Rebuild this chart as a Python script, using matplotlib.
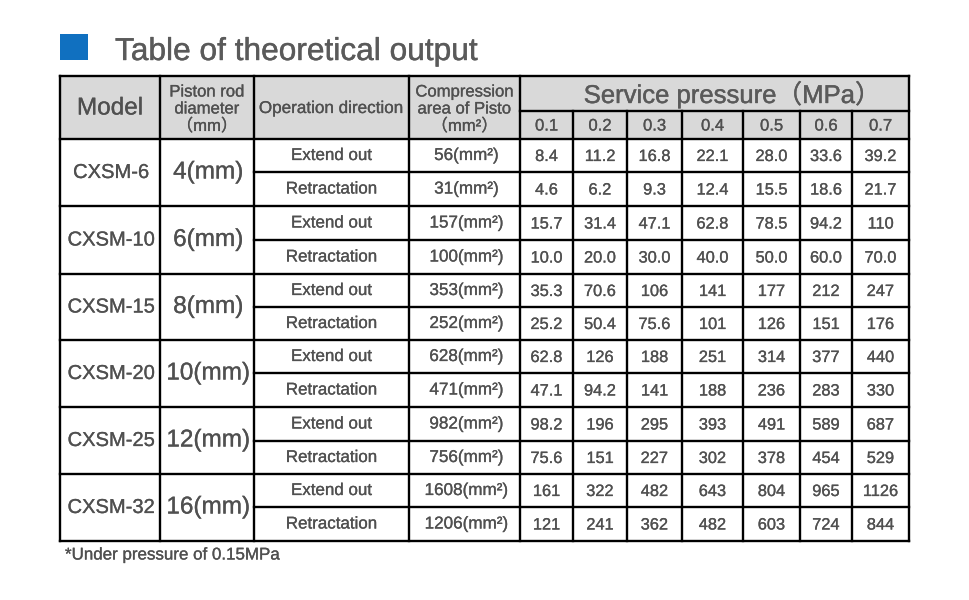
import matplotlib.pyplot as plt
import matplotlib.patheffects as pe
from matplotlib.patches import Rectangle

# table content
models = ['CXSM-6', 'CXSM-10', 'CXSM-15', 'CXSM-20', 'CXSM-25', 'CXSM-32']
rod_diameters = [4, 6, 8, 10, 12, 16]
directions = ['Extend out', 'Retractation']
areas = [[56, 31], [157, 100], [353, 252], [628, 471], [982, 756], [1608, 1206]]
pressures = ['0.1', '0.2', '0.3', '0.4', '0.5', '0.6', '0.7']
outputs = [
    ['8.4', '11.2', '16.8', '22.1', '28.0', '33.6', '39.2'],
    ['4.6', '6.2', '9.3', '12.4', '15.5', '18.6', '21.7'],
    ['15.7', '31.4', '47.1', '62.8', '78.5', '94.2', '110'],
    ['10.0', '20.0', '30.0', '40.0', '50.0', '60.0', '70.0'],
    ['35.3', '70.6', '106', '141', '177', '212', '247'],
    ['25.2', '50.4', '75.6', '101', '126', '151', '176'],
    ['62.8', '126', '188', '251', '314', '377', '440'],
    ['47.1', '94.2', '141', '188', '236', '283', '330'],
    ['98.2', '196', '295', '393', '491', '589', '687'],
    ['75.6', '151', '227', '302', '378', '454', '529'],
    ['161', '322', '482', '643', '804', '965', '1126'],
    ['121', '241', '362', '482', '603', '724', '844'],
]
title = 'Table of theoretical output'
footnote = '*Under pressure of 0.15MPa'

# layout (pixel coords, y down)
col_x = [60, 160, 254, 409, 520]
p_x = [520, 573, 627, 682, 743, 800, 852, 909]
y_top, y_mid, y_head = 76, 111, 139
row_y = [139, 172, 206, 240, 274, 307, 340, 373, 407, 441, 474, 507, 541]

fam = ['Liberation Sans', 'Noto Sans CJK SC']
txt_col = '#505050'
lw = 1.7


def put(x, y, s, size, color=txt_col, stroke=0.2, **kw):
    kw.setdefault('ha', 'center')
    kw.setdefault('va', 'center')
    return ax.text(x, y, s, fontsize=size, color=color, family=fam,
                   path_effects=[pe.withStroke(linewidth=stroke, foreground=color)], **kw)


fig = plt.figure(figsize=(9.7, 6), dpi=100)
ax = fig.add_axes([0, 0, 1, 1])
ax.set_xlim(0, 970)
ax.set_ylim(600, 0)
ax.axis('off')

# title
ax.add_patch(Rectangle((60, 34), 28, 26, color='#1070c0', lw=0))
put(115, 60, title, 22.8, color='#5a5a5a', stroke=0.3, ha='left', va='baseline')

# header background
ax.add_patch(Rectangle((col_x[0], y_top), p_x[-1] - col_x[0], y_head - y_top,
                       color='#d9d9d9', lw=0))

# grid lines
left, right, bottom = col_x[0], p_x[-1], row_y[-1]
for y in [y_top, y_head, bottom]:
    ax.plot([left, right], [y, y], color='black', lw=lw, solid_capstyle='projecting')
ax.plot([p_x[0], right], [y_mid, y_mid], color='black', lw=lw)
for i, y in enumerate(row_y[1:-1]):
    if i % 2 == 1:
        ax.plot([left, right], [y, y], color='black', lw=lw)
    else:
        ax.plot([col_x[2], right], [y, y], color='black', lw=lw)
for x in col_x + [right]:
    ax.plot([x, x], [y_top, bottom], color='black', lw=lw, solid_capstyle='projecting')
for x in p_x[1:-1]:
    ax.plot([x, x], [y_mid, bottom], color='black', lw=lw)

# header texts
hc = y_top + (y_head - y_top) / 2
put((col_x[0] + col_x[1]) / 2, hc + 1, 'Model', 17.5)
for dy, s in zip([-17, 0, 17], ['Piston rod', 'diameter', '（mm）']):
    put((col_x[1] + col_x[2]) / 2, 109 + dy, s, 12)
put((col_x[2] + col_x[3]) / 2, hc + 1, 'Operation direction', 12.3)
for dy, s in zip([-17, 0, 17], ['Compression', 'area of Pisto', '（mm²）']):
    put((col_x[3] + col_x[4]) / 2, 109 + dy, s, 12)
put((p_x[0] + p_x[-1]) / 2 + 18, (y_top + y_mid) / 2 + 1, 'Service pressure（MPa）',
    18.5, color='#5a5a5a', stroke=0.3)
for i, p in enumerate(pressures):
    put((p_x[i] + p_x[i + 1]) / 2, (y_mid + y_head) / 2 + 1, p, 12)

# body
for m, model in enumerate(models):
    y0, y2 = row_y[2 * m], row_y[2 * m + 2]
    ym = (y0 + y2) / 2
    put((col_x[0] + col_x[1]) / 2 + 1, ym, model, 14.5)
    put((col_x[1] + col_x[2]) / 2 + 1, ym, f'{rod_diameters[m]}(mm)', 17.5)
    for d in range(2):
        r = 2 * m + d
        yc = (row_y[r] + row_y[r + 1]) / 2
        put((col_x[2] + col_x[3]) / 2, yc, directions[d], 12.2)
        put((col_x[3] + col_x[4]) / 2 + 2, yc, f'{areas[m][d]}(mm²)', 12.3)
        for i, v in enumerate(outputs[r]):
            put((p_x[i] + p_x[i + 1]) / 2, yc + 1, v, 11.8)

put(65, 555, footnote, 12.2, ha='left')

fig.savefig('out.png', dpi=100)
